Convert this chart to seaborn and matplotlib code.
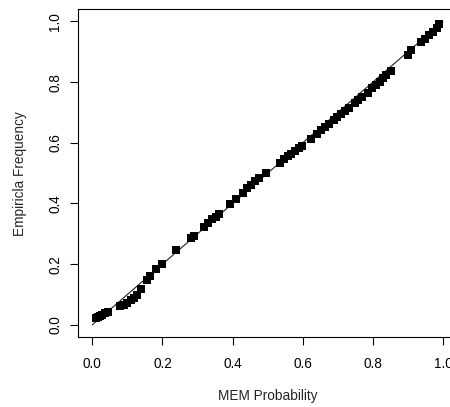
import matplotlib
matplotlib.use("Agg")
import matplotlib.pyplot as plt
import seaborn as sns
import pandas as pd

# MEM probability (x) vs empirical frequency (y)
mem_prob = [0.010, 0.016, 0.022, 0.029, 0.036, 0.044,
            0.080, 0.090, 0.100, 0.109, 0.118, 0.127, 0.138,
            0.155, 0.165, 0.183, 0.198,
            0.238, 0.281, 0.291,
            0.318, 0.330, 0.341, 0.352, 0.362,
            0.392, 0.409,
            0.429, 0.441, 0.452, 0.464, 0.476, 0.494,
            0.535, 0.546, 0.557, 0.566, 0.577, 0.588, 0.598,
            0.623, 0.640, 0.652, 0.663, 0.676, 0.688, 0.699, 0.709, 0.720, 0.731,
            0.748, 0.758, 0.769, 0.785, 0.797, 0.808, 0.819, 0.829, 0.838, 0.852,
            0.900, 0.910, 0.938, 0.950, 0.961, 0.972, 0.982, 0.990]
emp_freq = [0.022, 0.026, 0.030, 0.034, 0.038, 0.042,
            0.063, 0.067, 0.073, 0.081, 0.090, 0.100, 0.118,
            0.147, 0.160, 0.183, 0.200,
            0.246, 0.287, 0.294,
            0.324, 0.337, 0.349, 0.357, 0.366,
            0.399, 0.416,
            0.436, 0.451, 0.462, 0.474, 0.485, 0.500,
            0.535, 0.545, 0.555, 0.564, 0.573, 0.583, 0.591,
            0.614, 0.630, 0.642, 0.652, 0.663, 0.675, 0.684, 0.694, 0.705, 0.715,
            0.730, 0.741, 0.752, 0.765, 0.780, 0.790, 0.800, 0.812, 0.825, 0.836,
            0.890, 0.905, 0.932, 0.943, 0.955, 0.966, 0.978, 0.990]
ref_x = [0.0, 1.0]
ref_y = [0.0, 1.0]
tick_vals = [0.0, 0.2, 0.4, 0.6, 0.8, 1.0]
tick_labels = ["0.0", "0.2", "0.4", "0.6", "0.8", "1.0"]

sns.set_style("white")
plt.rcParams["font.family"] = ["Liberation Sans", "DejaVu Sans"]

df = pd.DataFrame({"x": mem_prob, "y": emp_freq})
ref = pd.DataFrame({"x": ref_x, "y": ref_y})

fig = plt.figure(figsize=(4.5, 4.07), dpi=100)
ax = fig.add_axes([78.3 / 450, 1 - 337.0 / 407, (457.0 - 78.3) / 450, (337.0 - 9.3) / 407])

sns.lineplot(data=ref, x="x", y="y", ax=ax, color="#222222", linewidth=0.8,
             sort=False, estimator=None)
sns.scatterplot(data=df, x="x", y="y", ax=ax, marker="s", color="black",
                s=34, linewidth=0, zorder=3)

ax.set_xlim(-0.04, 1.04)
ax.set_ylim(-0.04, 1.04)
ax.set_xticks(tick_vals)
ax.set_xticklabels(tick_labels)
ax.set_yticks(tick_vals)
ax.set_yticklabels(tick_labels, rotation=90, va="center")

for sp in ax.spines.values():
    sp.set_visible(True)
    sp.set_color("black")
    sp.set_linewidth(0.8)

ax.tick_params(axis="both", direction="out", length=6, width=0.8, color="black",
               labelsize=9.8, labelcolor="black")
ax.tick_params(axis="x", pad=8.5, bottom=True)
ax.tick_params(axis="y", pad=5.5, left=True)

ax.set_xlabel("MEM Probability", fontsize=9.8, labelpad=13)
ax.set_ylabel("Empiricla Frequency", fontsize=9.8, labelpad=15)

fig.savefig("out.png", dpi=100)
